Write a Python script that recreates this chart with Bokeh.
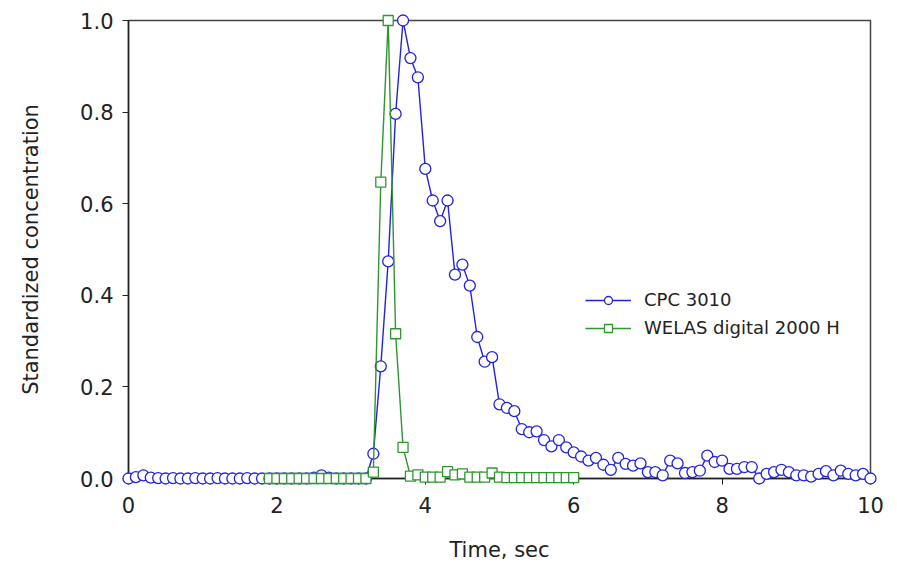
import numpy as np
from bokeh.plotting import figure
from bokeh.models import Range1d, FixedTicker, Legend, LegendItem
from bokeh.embed import file_html
from bokeh.resources import INLINE

# CPC 3010 (0.0 .. 10.0 s, step 0.1)
cpc_time = [round(0.1 * i, 1) for i in range(101)]
cpc_conc = [
    0.0, 0.003, 0.007, 0.002, 0.001, 0.0, 0.001, 0.0, 0.0, 0.001,
    0.0, 0.0, 0.001, 0.0, 0.0, 0.0, 0.001, 0.0, 0.0, 0.0,
    0.0, 0.0, 0.0, 0.0, 0.0, 0.002, 0.007, 0.002, 0.0, 0.0,
    0.0, 0.0, 0.0, 0.054, 0.245, 0.474, 0.796, 1.0, 0.918, 0.876,
    0.676, 0.607, 0.562, 0.607, 0.445, 0.467, 0.421, 0.309, 0.255, 0.265,
    0.162, 0.154, 0.147, 0.108, 0.101, 0.103, 0.084, 0.070, 0.084, 0.068,
    0.057, 0.048, 0.039, 0.045, 0.030, 0.019, 0.045, 0.032, 0.028, 0.033,
    0.014, 0.014, 0.007, 0.039, 0.033, 0.012, 0.014, 0.017, 0.050, 0.036,
    0.039, 0.021, 0.021, 0.025, 0.025, 0.0, 0.010, 0.014, 0.019, 0.014,
    0.007, 0.007, 0.004, 0.010, 0.016, 0.007, 0.017, 0.010, 0.007, 0.010,
    0.0,
]

# WELAS digital 2000 H (1.9 .. 6.0 s, step 0.1)
welas_time = [round(1.9 + 0.1 * i, 1) for i in range(42)]
welas_conc = [
    0.0, 0.0, 0.0, 0.0, 0.0, 0.0, 0.0, 0.0, 0.0, 0.0,
    0.0, 0.0, 0.0, 0.0, 0.014, 0.647, 1.0, 0.316, 0.068, 0.005,
    0.008, 0.003, 0.003, 0.003, 0.015, 0.008, 0.010, 0.003, 0.003, 0.003,
    0.012, 0.003, 0.002, 0.002, 0.002, 0.002, 0.002, 0.002, 0.002, 0.002,
    0.002, 0.002,
]

x_ticks = [0, 2, 4, 6, 8, 10]
y_ticks = [0.0, 0.2, 0.4, 0.6, 0.8, 1.0]
y_tick_labels = {0.0: "0.0", 0.2: "0.2", 0.4: "0.4", 0.6: "0.6", 0.8: "0.8", 1.0: "1.0"}

BLUE = "#2222e0"
GREEN = "#2f962f"
FONT = "DejaVu Sans"

p = figure(width=897, height=564, output_backend="svg", toolbar_location=None,
           x_range=Range1d(0, 10), y_range=Range1d(0, 1),
           min_border_left=128, min_border_right=27, min_border_top=20, min_border_bottom=86)
p.background_fill_color = "white"
p.border_fill_color = "white"
p.grid.visible = False
p.outline_line_color = "#444444"
p.outline_line_width = 1.5

for ax in (p.xaxis[0], p.yaxis[0]):
    ax.axis_line_color = "#222222"
    ax.axis_line_width = 1.5
    ax.major_tick_line_color = "#222222"
    ax.major_tick_out = 6
    ax.major_tick_in = 0
    ax.minor_tick_line_color = None
    ax.major_label_text_font = FONT
    ax.major_label_text_font_size = "21px"
    ax.major_label_text_color = "#222222"
    ax.axis_label_text_font = FONT
    ax.axis_label_text_font_size = "21px"
    ax.axis_label_text_font_style = "normal"
    ax.axis_label_text_color = "#222222"

p.xaxis.ticker = FixedTicker(ticks=x_ticks)
p.yaxis.ticker = FixedTicker(ticks=y_ticks)
p.yaxis.major_label_overrides = y_tick_labels
p.xaxis.axis_label = "Time, sec"
p.yaxis.axis_label = "Standardized concentration"
p.xaxis.major_label_standoff = 12
p.yaxis.major_label_standoff = 9
p.xaxis.axis_label_standoff = 22
p.yaxis.axis_label_standoff = 34

l1 = p.line(cpc_time, cpc_conc, line_color=BLUE, line_width=1.4, level="overlay")
s1 = p.scatter(cpc_time, cpc_conc, marker="circle", size=11, line_color=BLUE,
               fill_color="white", line_width=1.3, level="overlay")
l2 = p.line(welas_time, welas_conc, line_color=GREEN, line_width=1.4, level="overlay")
s2 = p.scatter(welas_time, welas_conc, marker="square", size=10, line_color=GREEN,
               fill_color="white", line_width=1.3, level="overlay")

legend = Legend(items=[LegendItem(label="CPC 3010", renderers=[l1, s1]),
                       LegendItem(label="WELAS digital 2000 H", renderers=[l2, s2])],
                location=(457, 140))
legend.border_line_color = None
legend.background_fill_alpha = 0
legend.label_text_font = FONT
legend.label_text_font_size = "18px"
legend.label_text_color = "#222222"
legend.glyph_width = 46
legend.glyph_height = 20
legend.label_height = 20
legend.spacing = 7
legend.padding = 0
legend.margin = 0
legend.label_standoff = 13
p.add_layout(legend)

open("out.html", "w").write(file_html(p, INLINE))
